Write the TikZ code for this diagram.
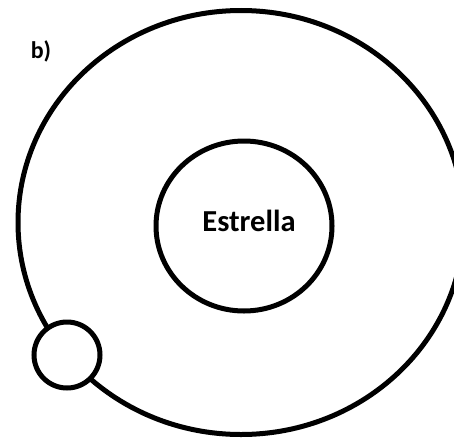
\documentclass[tikz,border=0pt]{standalone}
\usepackage{fontspec}
\setmainfont{Carlito}
\begin{document}
\begin{tikzpicture}[x=1pt,y=-1pt,
  ring/.style={draw=black,line width=5pt,fill=none},
  planet/.style={circle,draw=black,line width=5pt,fill=white,minimum size=66pt,inner sep=0pt},
  lbl/.style={font=\bfseries,inner sep=0pt}]
\useasboundingbox (0,0) rectangle (454,439);
\draw[ring] (241,222.5) ellipse [x radius=223, y radius=212];
\draw[ring] (244,226) ellipse [x radius=88, y radius=85];
\node[lbl,font=\bfseries\fontsize{30.5}{32}\selectfont] (star) at (249,221) {Estrella};
\node[planet] (planet) at (67,355) {};
\node[lbl,font=\bfseries\fontsize{24}{26}\selectfont] (label) at (41,51) {b)};
\end{tikzpicture}
\end{document}
